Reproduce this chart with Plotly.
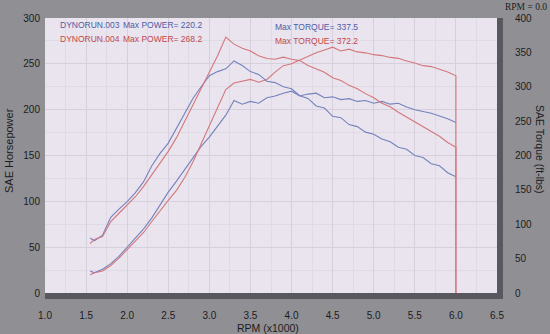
import plotly.graph_objects as go

# RPM (x1000) sample points
rpm = [1.55, 1.6, 1.7, 1.8, 1.9, 2.0, 2.1, 2.2, 2.3, 2.4, 2.5, 2.6, 2.7, 2.8, 2.9,
       3.0, 3.1, 3.2, 3.3, 3.4, 3.5, 3.6, 3.7, 3.8, 3.9, 4.0, 4.1, 4.2, 4.3, 4.4,
       4.5, 4.6, 4.7, 4.8, 4.9, 5.0, 5.1, 5.2, 5.3, 5.4, 5.5, 5.6, 5.7, 5.8, 5.9, 6.0]

# DYNORUN.003 (blue)
power_003 = [24, 22, 26, 32, 40, 50, 60, 70, 82, 96, 110, 122, 135, 148, 160,
             170, 182, 194, 210, 206, 209, 207, 213, 215, 218, 220.2, 215, 217, 218, 213,
             214, 211, 212, 209, 210, 207, 209, 206, 207, 203, 200, 198, 196, 193, 190, 186]
torque_003 = [80, 76, 84, 110, 122, 133, 146, 162, 185, 203, 218, 240, 262, 283, 300,
              316, 322, 326, 337.5, 331, 322, 318, 308, 306, 300, 297, 287, 283, 272, 269,
              257, 255, 245, 242, 234, 231, 224, 220, 212, 209, 200, 197, 188, 185, 175, 169]

# DYNORUN.004 (red) - run ends with drop to zero at 6.0
rpm_004 = rpm + [6.0]
power_004 = [20, 22, 24, 30, 38, 47, 57, 66, 78, 90, 101, 112, 126, 143, 163,
             183, 203, 222, 229, 231, 233, 230, 233, 241, 248, 250, 254, 258, 262, 265,
             268.2, 264, 266, 263, 262, 260, 259, 257, 256, 253, 251, 248, 247, 244, 241, 237, 0]
torque_004 = [72, 78, 82, 104, 116, 128, 140, 155, 172, 190, 206, 226, 250, 272, 296,
              320, 345, 372.2, 362, 356, 352, 345, 341, 340, 343, 340, 338, 331, 326, 321,
              313, 309, 302, 297, 290, 284, 276, 271, 263, 256, 249, 243, 235, 228, 219, 212, 0]

BLUE = "#7682bd"
RED = "#d4777c"
BLUE_TXT = "#4f5ca6"
RED_TXT = "#c4484c"

fig = go.Figure()
fig.add_trace(go.Scatter(x=rpm, y=power_003, mode="lines", line=dict(color=BLUE, width=1.1), yaxis="y"))
fig.add_trace(go.Scatter(x=rpm, y=torque_003, mode="lines", line=dict(color=BLUE, width=1.1), yaxis="y2"))
fig.add_trace(go.Scatter(x=rpm_004, y=power_004, mode="lines", line=dict(color=RED, width=1.1), yaxis="y"))
fig.add_trace(go.Scatter(x=rpm_004, y=torque_004, mode="lines", line=dict(color=RED, width=1.1), yaxis="y2"))

tickfont = dict(family="Liberation Sans, Arial", size=10, color="#1c1c1e")

fig.update_layout(
    width=550, height=334,
    margin=dict(l=45, r=53, t=16, b=41),
    paper_bgcolor="#909094",
    plot_bgcolor="#e9e4ed",
    showlegend=False,
    xaxis=dict(range=[1.0, 6.5], dtick=0.5, tick0=1.0, tickformat=".1f",
               showgrid=True, gridcolor="#d5d0dc", gridwidth=1,
               minor=dict(dtick=0.25, showgrid=True, gridcolor="#dfdbe5"),
               zeroline=False, showline=True, linecolor="#58585e", linewidth=6,
               ticks="", ticklabelstandoff=8, tickfont=tickfont),
    yaxis=dict(range=[0, 300], dtick=50, showgrid=True, gridcolor="#d5d0dc",
               minor=dict(dtick=25, showgrid=True, gridcolor="#dfdbe5"),
               zeroline=False, showline=False, ticks="", ticklabelstandoff=4,
               tickfont=tickfont),
    yaxis2=dict(range=[0, 400], dtick=50, overlaying="y", side="right",
                showgrid=False, zeroline=False, showline=True, linecolor="#58585e",
                linewidth=6, ticks="", ticklabelstandoff=10, tickfont=tickfont),
)

def px_x(p):
    return (p - 45) / 452.0

def px_y(p):
    return (293 - p) / 277.0

ann = []
lab_font = dict(family="Liberation Sans, Arial", size=8.5)
ann.append(dict(text="DYNORUN.003", x=px_x(58), y=px_y(23), font=dict(lab_font, color=BLUE_TXT)))
ann.append(dict(text="DYNORUN.004", x=px_x(58), y=px_y(37), font=dict(lab_font, color=RED_TXT)))
ann.append(dict(text="Max POWER= %.1f" % max(power_003), x=px_x(121), y=px_y(23), font=dict(lab_font, color=BLUE_TXT)))
ann.append(dict(text="Max POWER= %.1f" % max(power_004), x=px_x(121), y=px_y(37), font=dict(lab_font, color=RED_TXT)))
ann.append(dict(text="Max TORQUE= %.1f" % max(torque_003), x=px_x(273), y=px_y(25), font=dict(lab_font, color=BLUE_TXT)))
ann.append(dict(text="Max TORQUE= %.1f" % max(torque_004), x=px_x(273), y=px_y(39), font=dict(lab_font, color=RED_TXT)))
for a in ann:
    a.update(xref="paper", yref="paper", xanchor="left", yanchor="middle", showarrow=False)

fig.add_annotation(text="RPM = 0.0", x=px_x(526), y=px_y(5), xref="paper", yref="paper",
                   xanchor="center", yanchor="middle", showarrow=False,
                   font=dict(family="Liberation Serif, Times New Roman", size=9.5, color="#202022"))
fig.add_annotation(text="SAE Horsepower", x=px_x(9), y=px_y(150), xref="paper", yref="paper",
                   textangle=-90, xanchor="center", yanchor="middle", showarrow=False,
                   font=dict(family="Liberation Sans, Arial", size=11, color="#1c1c1e"))
fig.add_annotation(text="SAE Torque (ft-lbs)", x=px_x(540), y=px_y(148), xref="paper", yref="paper",
                   textangle=90, xanchor="center", yanchor="middle", showarrow=False,
                   font=dict(family="Liberation Sans, Arial", size=10.5, color="#1c1c1e"))
fig.add_annotation(text="RPM (x1000)", x=px_x(268), y=px_y(328), xref="paper", yref="paper",
                   xanchor="center", yanchor="middle", showarrow=False,
                   font=dict(family="Liberation Sans, Arial", size=10.5, color="#1c1c1e"))
for a in ann:
    fig.add_annotation(**a)

fig.write_html("out.html", config={"displayModeBar": False},
               post_script="document.body.style.margin='0';document.body.style.overflow='hidden';")
